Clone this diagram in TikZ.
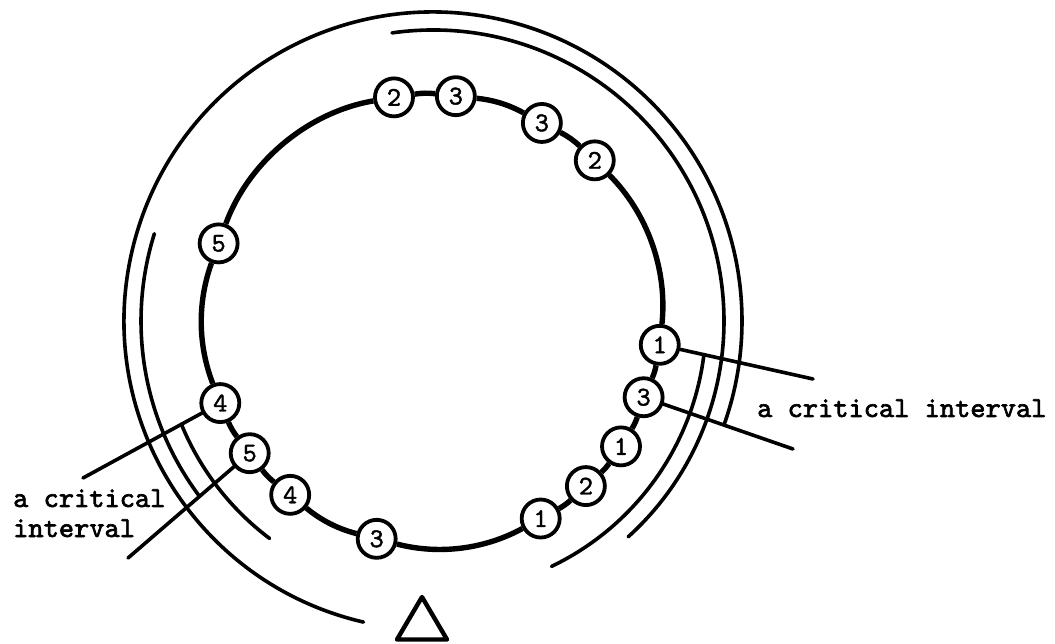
\documentclass[tikz,border=0pt]{standalone}
\usepackage{fontspec}
\newfontfamily\tyb[FakeBold=2.2]{lmmono10-regular.otf}
\newfontfamily\tyd[FakeBold=1.6]{lmmono10-regular.otf}
\usetikzlibrary{calc}
\tikzset{
  ringnode/.style={circle, draw, line width=3.8pt, fill=white, minimum size=38pt, inner sep=0pt,
    font=\fontsize{27}{27}\selectfont\tyd},
  ringline/.style={line width=5.4pt, looseness=0.88},
  arcline/.style={line width=3.6pt, line cap=round},
  leader/.style={line width=3.6pt, line cap=round},
  labeltext/.style={font=\fontsize{29}{30}\selectfont\tyb, inner sep=0pt, anchor=base west},
  marker/.style={line width=4.4pt, line join=round},
}
\begin{document}
\begin{tikzpicture}[x=1pt,y=1pt]
\useasboundingbox (0,0) rectangle (1055,643);
\begin{scope}[shift={(433,322)}]
  % outer arcs (critical intervals)
  \draw[arcline] (257:309pt) arc[start angle=257, end angle=-19.7, radius=309pt];
  \draw[arcline] (98.1:291pt) arc[start angle=98.1, end angle=-47.9, radius=291pt];
  \draw[arcline] (-7.1:273pt) arc[start angle=-7.1, end angle=-64.4, radius=272pt];
  \draw[arcline] (162.6:292pt) arc[start angle=162.6, end angle=216.9, radius=292pt];
  \draw[arcline] (202.3:272pt) arc[start angle=202.3, end angle=233.1, radius=272pt];
  % nodes on the ring
  \node[ringnode] (a) at (-104.5:225pt) {3};
  \node[ringnode] (b) at (-61.4:225pt) {1};
  \node[ringnode] (c) at (-47.2:225pt) {2};
  \node[ringnode] (d) at (-33.7:226pt) {1};
  \node[ringnode] (e) at (-19.9:224pt) {3};
  \node[ringnode] (f) at (-6.0:228pt) {1};
  \node[ringnode] (g) at (44.8:228pt) {2};
  \node[ringnode] (h) at (61.2:226pt) {3};
  \node[ringnode] (i) at (84.2:226pt) {3};
  \node[ringnode] (j) at (99.9:227pt) {2};
  \node[ringnode] (k) at (160.1:228pt) {5};
  \node[ringnode] (l) at (201.1:228pt) {4};
  \node[ringnode] (m) at (215.8:226pt) {5};
  \node[ringnode] (n) at (230.6:225pt) {4};
\end{scope}
% ring connectors
\draw[ringline] (a) to[bend right=21.55] (b);
\draw[ringline] (b) to[bend right=7.1] (c);
\draw[ringline] (c) to[bend right=6.75] (d);
\draw[ringline] (d) to[bend right=6.9] (e);
\draw[ringline] (e) to[bend right=6.95] (f);
\draw[ringline] (f) to[bend right=25.4] (g);
\draw[ringline] (g) to[bend right=8.2] (h);
\draw[ringline] (h) to[bend right=11.5] (i);
\draw[ringline] (i) to[bend right=7.85] (j);
\draw[ringline] (j) to[bend right=30.1] (k);
\draw[ringline] (k) to[bend right=20.5] (l);
\draw[ringline] (l) to[bend right=7.35] (m);
\draw[ringline] (m) to[bend right=7.4] (n);
\draw[ringline] (n) to[bend right=12.45] (a);
% leader lines
\coordinate (ur) at (813,264);
\coordinate (lr) at (793,194);
\coordinate (ul) at (83,165);
\coordinate (ll) at (128,85);
\draw[leader] (f) -- (ur);
\draw[leader] (e) -- (lr);
\draw[leader] (l) -- (ul);
\draw[leader] (m) -- (ll);
% labels
\node[labeltext] (rlab) at (757,226) {a critical interval};
\node[labeltext] (llab1) at (13,136) {a critical};
\node[labeltext] (llab2) at (13,106) {interval};
% marker triangle
\draw[marker] (397,3.5) -- (422,46) -- (447,3.5) -- cycle;
\end{tikzpicture}
\end{document}
